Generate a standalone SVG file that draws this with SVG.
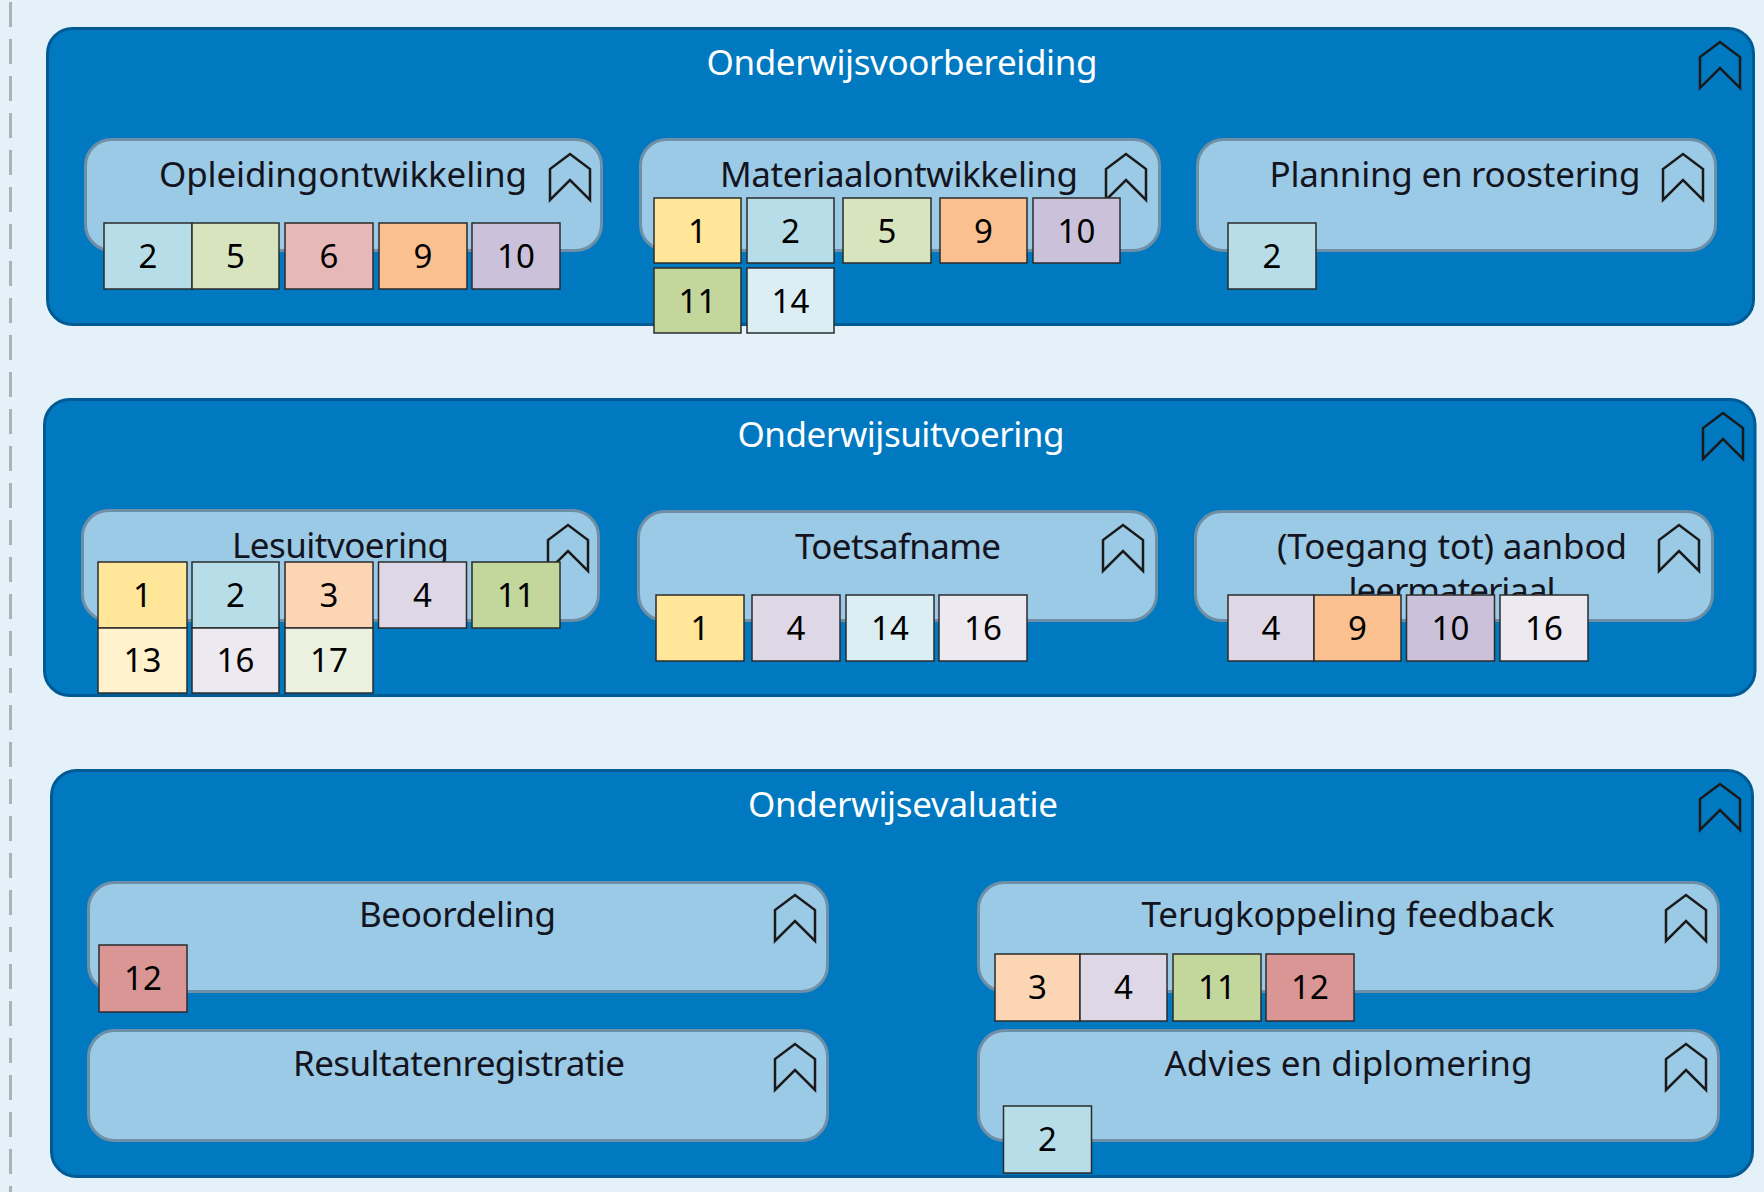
<svg xmlns="http://www.w3.org/2000/svg" width="1764" height="1192" viewBox="0 0 1764 1192">
<defs>
<style>
.bg{fill:#e4f1f9}
.grp{fill:#0079c1;stroke:#005a93;stroke-width:3}
.sub{fill:#9bcae6;stroke:#6f8fa6;stroke-width:3}
.gt{font-family:"Noto Sans","Open Sans","DejaVu Sans",sans-serif;font-size:35px;fill:#ffffff;text-anchor:middle}
.st{font-family:"Noto Sans","Open Sans","DejaVu Sans",sans-serif;font-size:35px;fill:#141420;text-anchor:middle}
.ico{fill:none;stroke:#1a1a1a;stroke-width:2.5;stroke-linejoin:miter}
.b{stroke:#2b2b2b;stroke-width:1.5}
.n{font-family:"Noto Sans","Open Sans","DejaVu Sans",sans-serif;font-size:33px;fill:#000000;text-anchor:middle}
.c1{fill:#ffe699}.c2{fill:#b7dee8}.c3{fill:#fcd5b5}.c4{fill:#ded8e6}.c5{fill:#d7e4bd}.c6{fill:#e6b9b8}
.c9{fill:#fac090}.c10{fill:#ccc1da}.c11{fill:#c3d69b}.c12{fill:#d99694}.c13{fill:#fff2cc}.c14{fill:#dbeef4}
.c16{fill:#ece9f1}.c17{fill:#ebf1de}
</style>
<path id="chev" d="M0,46 L0,15 L20,0 L40,15 L40,46 L20,26 Z"/>
</defs>
<rect class="bg" x="0" y="0" width="1764" height="1192"/>
<line x1="10.5" y1="2" x2="10.5" y2="1192" stroke="#adb1b5" stroke-width="3" stroke-dasharray="25 12"/>

<g id="onderwijsvoorbereiding">
<rect class="grp" x="47.5" y="28.5" width="1706" height="296" rx="25"/>
<text class="gt" x="902" y="75" textLength="391">Onderwijsvoorbereiding</text>
<use href="#chev" class="ico" x="1700" y="42"/>
</g>
<g id="opleidingontwikkeling">
<rect class="sub" x="85.5" y="139.5" width="516" height="111" rx="26"/>
<text class="st" x="343" y="187" textLength="368">Opleidingontwikkeling</text>
<use href="#chev" class="ico" x="550" y="154"/>
<rect class="b c2" x="104" y="223" width="88" height="66"/><text class="n" x="148" y="268">2</text>
<rect class="b c5" x="192" y="223" width="87" height="66"/><text class="n" x="235.5" y="268">5</text>
<rect class="b c6" x="285" y="223" width="88" height="66"/><text class="n" x="329" y="268">6</text>
<rect class="b c9" x="379" y="223" width="88" height="66"/><text class="n" x="423" y="268">9</text>
<rect class="b c10" x="472" y="223" width="88" height="66"/><text class="n" x="516" y="268">10</text>
</g>
<g id="materiaalontwikkeling">
<rect class="sub" x="640.5" y="139.5" width="519" height="111" rx="26"/>
<text class="st" x="899" y="187" textLength="358">Materiaalontwikkeling</text>
<use href="#chev" class="ico" x="1106" y="154"/>
<rect class="b c1" x="654" y="198" width="87" height="65"/><text class="n" x="697.5" y="243">1</text>
<rect class="b c2" x="747" y="198" width="87" height="65"/><text class="n" x="790.5" y="243">2</text>
<rect class="b c5" x="843" y="198" width="88" height="65"/><text class="n" x="887" y="243">5</text>
<rect class="b c9" x="940" y="198" width="87" height="65"/><text class="n" x="983.5" y="243">9</text>
<rect class="b c10" x="1033" y="198" width="87" height="65"/><text class="n" x="1076.5" y="243">10</text>
<rect class="b c11" x="654" y="268" width="87" height="65"/><text class="n" x="697.5" y="313">11</text>
<rect class="b c14" x="747" y="268" width="87" height="65"/><text class="n" x="790.5" y="313">14</text>
</g>
<g id="planning-en-roostering">
<rect class="sub" x="1197.5" y="139.5" width="518" height="111" rx="26"/>
<text class="st" x="1455" y="187" textLength="371">Planning en roostering</text>
<use href="#chev" class="ico" x="1663" y="154"/>
<rect class="b c2" x="1228" y="223" width="88" height="66"/><text class="n" x="1272" y="268">2</text>
</g>

<g id="onderwijsuitvoering">
<rect class="grp" x="44.5" y="399.5" width="1710.5" height="296" rx="25"/>
<text class="gt" x="901" y="447" textLength="327">Onderwijsuitvoering</text>
<use href="#chev" class="ico" x="1703" y="413"/>
</g>
<g id="lesuitvoering">
<rect class="sub" x="82.5" y="510.5" width="516" height="110" rx="26"/>
<text class="st" x="340.5" y="558" textLength="217">Lesuitvoering</text>
<use href="#chev" class="ico" x="548" y="525"/>
<rect class="b c1" x="98" y="562" width="89" height="66"/><text class="n" x="142.5" y="607">1</text>
<rect class="b c2" x="192" y="562" width="87" height="66"/><text class="n" x="235.5" y="607">2</text>
<rect class="b c3" x="285" y="562" width="88" height="66"/><text class="n" x="329" y="607">3</text>
<rect class="b c4" x="378.5" y="562" width="88" height="66"/><text class="n" x="422.5" y="607">4</text>
<rect class="b c11" x="472" y="562" width="88" height="66"/><text class="n" x="516" y="607">11</text>
<rect class="b c13" x="98" y="628" width="89" height="65"/><text class="n" x="142.5" y="672">13</text>
<rect class="b c16" x="192" y="628" width="87" height="65"/><text class="n" x="235.5" y="672">16</text>
<rect class="b c17" x="285" y="628" width="88" height="65"/><text class="n" x="329" y="672">17</text>
</g>
<g id="toetsafname">
<rect class="sub" x="638.5" y="511.5" width="518" height="109" rx="26"/>
<text class="st" x="898" y="559" textLength="206">Toetsafname</text>
<use href="#chev" class="ico" x="1103" y="525"/>
<rect class="b c1" x="656" y="595" width="88" height="66"/><text class="n" x="700" y="640">1</text>
<rect class="b c4" x="752" y="595" width="88" height="66"/><text class="n" x="796" y="640">4</text>
<rect class="b c14" x="846" y="595" width="88" height="66"/><text class="n" x="890" y="640">14</text>
<rect class="b c16" x="939" y="595" width="88" height="66"/><text class="n" x="983" y="640">16</text>
</g>
<g id="toegang-aanbod-leermateriaal">
<rect class="sub" x="1195.5" y="511.5" width="517" height="109" rx="26"/>
<text class="st" x="1452" y="559" textLength="350">(Toegang tot) aanbod</text>
<text class="st" x="1452" y="603" textLength="207">leermateriaal</text>
<use href="#chev" class="ico" x="1659" y="525"/>
<rect class="b c4" x="1228" y="595" width="86" height="66"/><text class="n" x="1271" y="640">4</text>
<rect class="b c9" x="1314" y="595" width="87" height="66"/><text class="n" x="1357.5" y="640">9</text>
<rect class="b c10" x="1406.5" y="595" width="88" height="66"/><text class="n" x="1450.5" y="640">10</text>
<rect class="b c16" x="1500" y="595" width="88" height="66"/><text class="n" x="1544" y="640">16</text>
</g>

<g id="onderwijsevaluatie">
<rect class="grp" x="51.5" y="770.5" width="1701" height="406" rx="25"/>
<text class="gt" x="903" y="817" textLength="310">Onderwijsevaluatie</text>
<use href="#chev" class="ico" x="1700" y="784"/>
</g>
<g id="beoordeling">
<rect class="sub" x="88.5" y="882.5" width="739" height="109" rx="26"/>
<text class="st" x="457.5" y="927" textLength="197">Beoordeling</text>
<use href="#chev" class="ico" x="775" y="895"/>
<rect class="b c12" x="99" y="945" width="88" height="67"/><text class="n" x="143" y="990">12</text>
</g>
<g id="resultatenregistratie">
<rect class="sub" x="88.5" y="1030.5" width="739" height="110" rx="26"/>
<text class="st" x="459" y="1076" textLength="332">Resultatenregistratie</text>
<use href="#chev" class="ico" x="775" y="1044"/>
</g>
<g id="terugkoppeling-feedback">
<rect class="sub" x="978.5" y="882.5" width="740" height="109" rx="26"/>
<text class="st" x="1348" y="927" textLength="413">Terugkoppeling feedback</text>
<use href="#chev" class="ico" x="1666" y="895"/>
<rect class="b c3" x="995" y="954" width="85" height="67"/><text class="n" x="1037.5" y="999">3</text>
<rect class="b c4" x="1080" y="954" width="87" height="67"/><text class="n" x="1123.5" y="999">4</text>
<rect class="b c11" x="1173" y="954" width="88" height="67"/><text class="n" x="1217" y="999">11</text>
<rect class="b c12" x="1266" y="954" width="88" height="67"/><text class="n" x="1310" y="999">12</text>
</g>
<g id="advies-en-diplomering">
<rect class="sub" x="978.5" y="1030.5" width="740" height="110" rx="26"/>
<text class="st" x="1348.5" y="1076" textLength="368">Advies en diplomering</text>
<use href="#chev" class="ico" x="1666" y="1044"/>
<rect class="b c2" x="1003.5" y="1106" width="88" height="67"/><text class="n" x="1047.5" y="1151">2</text>
</g>
<g id="connectors"/>
</svg>
